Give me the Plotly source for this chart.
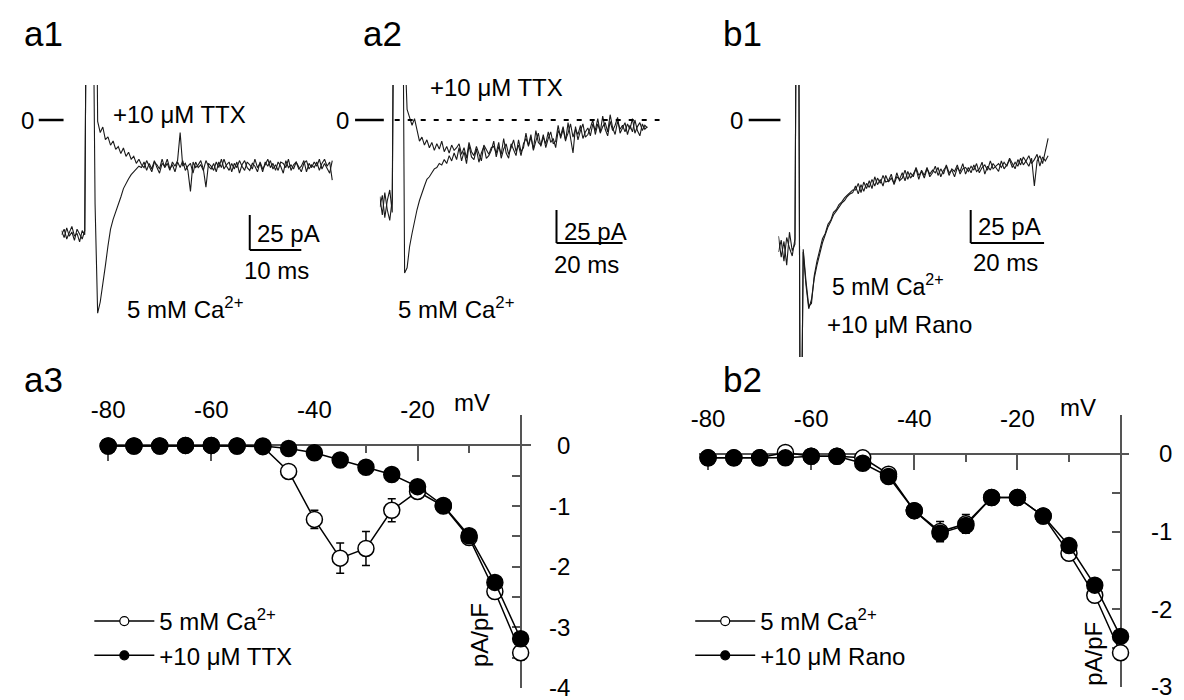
import numpy as np
import plotly.graph_objects as go

W, H = 1184, 700
FONT = "Liberation Sans, Arial, sans-serif"
INK = "#1a1a1a"
AXIS = "#555555"
TXT = 24

# ---------------- whole-cell current traces (pA) ----------------
A1_DT = 0.5   # ms per sample
a1_ca = [-79, -84, -77, -83, -80, -86, -78, -82, -85, -79,
         220, 220, 150, -60,
         -138, -130, -118, -104, -90, -78, -71, -66, -60, -55, -49, -45, -42, -39, -37, -35, -33, -34,
         -30, -36, -31, -35, -29, -34, -38, -31, -33, -28, -35, -32, -37, -30, -34, -29, -36, -33, -31, -38,
         -30, -34, -32, -36, -29, -33, -35, -31, -37, -30, -34, -28, -33, -36, -31, -35, -30, -38, -32, -29,
         -34, -36, -31, -33, -37, -30, -35, -32, -28, -34, -31, -36, -30, -33, -38, -29, -34, -32, -35, -30,
         -33, -37, -31, -29, -35, -32, -34, -30, -36, -31, -28, -33, -30, -43]
a1_ttx = [-82, -78, -85, -80, -76, -83, -81, -87, -79, -82,
          220, 220, 220, 220,
          -1, -9, -5, -14, -12, -18, -15, -21, -19, -24, -20, -26, -23, -28, -26, -31, -28, -32,
          -34, -29, -33, -37, -30, -32, -35, -28, -34, -31, -36, -30, -33, -29, -9, -33, -31, -36, -51, -30,
          -34, -32, -29, -35, -48, -31, -33, -36, -30, -34, -28, -35, -32, -30, -37, -31, -34, -29, -33, -36,
          -30, -32, -35, -28, -34, -31, -37, -30, -33, -29, -35, -32, -36, -30, -31, -34, -28, -36, -32, -30,
          -35, -33, -29, -37, -31, -34, -30, -33, -28, -35, -31, -34, -38, -29]

A2_DT = 0.75
a2_ca = [-58, -72, -55, -68, -76, -60,
         220, 220, 220, 200,
         -116, -112, -96, -86, -76, -68, -61, -55, -50, -45, -43, -40, -37, -36, -33, -34, -30, -33, -27, -31, -25, -30,
         -21, -31, -24, -33, -19, -28, -30, -22, -32, -25, -20, -29, -27, -23,
         -16, -28, -20, -26, -14, -25, -29, -18, -23, -27, -15, -24, -21,
         -10, -20, -13, -22, -8, -17, -19, -11, -21, -14, -9, -18, -16,
         -4, -14, -7, -16, -2, -12, -25, -5, -15, -8, -3, -13, -11, -6,
         0, -11, -3, -9, 3, -7, -12, -1, -8, -4, 2, -10, -6,
         -2, -11, -4, -9, 0, -8, -12, -3, -7, -5]
a2_ttx = [-66, -57, -74, -61, -53, -70,
          220, 220, 220, 220,
          60, 8, 2, -4, 1, -9, -16, -13, -19, -15, -21, -17, -23, -18, -22, -16, -24, -20, -25, -19, -23, -21,
          -18, -26, -21, -29, -17, -24, -27, -20, -25, -31, -19, -23, -26, -21,
          -20, -25, -17, -29, -22, -18, -26, -21, -15, -24, -19, -27, -18,
          -14, -19, -11, -23, -16, -10, -20, -13, -18, -9, -17, -14, -21,
          -8, -12, -5, -15, -10, -3, -13, -7, -11, -4, -14, -9, -6, -12,
          -3, -8, 1, -10, -5, -2, -9, 4, -6, -11, -1, -7, -4,
          -9, -3, -7, 1, -10, -5, -2, -8, -4, -6]

B1_DT = 0.75
b1_ca = [-88, -104, -92, -110, -85, -99, -94,
         320, -320,
         -100, -125, -143, -136, -120, -110, -101, -93, -87, -81, -77, -72, -69, -66, -63, -61, -58, -56, -55,
         -50, -56, -49, -54, -48,
         -51, -45, -50, -44, -48, -42, -47, -46, -41, -49, -43, -45,
         -40, -46, -39, -44, -41, -37, -45, -38, -42, -36, -43, -40,
         -35, -42, -37, -41, -34, -40, -38, -43, -36, -39, -33, -41,
         -36, -40, -34, -39, -37, -32, -41, -35, -38, -33, -36, -39,
         -31, -37, -34, -30, -36, -32, -35, -29, -34, -31, -27, -33, -30, -26, -35, -28, -31, -27]
b1_rano = [-100, -91, -107, -89, -97, -103, -90,
           320, -320,
           -98, -122, -141, -139, -118, -107, -99, -90, -86, -79, -76, -70, -68, -64, -62, -59, -57, -55, -53,
           -53, -48, -55, -47, -52,
           -46, -52, -43, -49, -45, -50, -42, -47, -44, -48, -40, -46,
           -44, -38, -45, -40, -43, -36, -42, -39, -44, -37, -41, -38,
           -40, -36, -43, -38, -35, -42, -37, -39, -34, -41, -37, -36,
           -39, -35, -38, -33, -40, -36, -34, -38, -31, -37, -35, -33,
           -36, -32, -35, -29, -33, -37, -30, -34, -28, -32, -35, -29, -50, -31, -27, -33, -22, -14]

SCALE_PA = 25
a1_scale_ms = 10
a2_scale_ms = 20
b1_scale_ms = 20

# ---------------- current-voltage relations (pA/pF) ----------------
iv_mv = [-80, -75, -70, -65, -60, -55, -50, -45, -40, -35, -30, -25, -20, -15, -10, -5, 0]
a3_ca = [-0.01, -0.01, -0.01, 0.0, 0.0, -0.01, -0.02, -0.43, -1.22, -1.86, -1.70, -1.07, -0.76, -1.00, -1.52, -2.41, -3.42]
a3_ca_err = [0.03, 0.03, 0.03, 0.03, 0.03, 0.03, 0.03, 0.06, 0.15, 0.25, 0.28, 0.19, 0.05, 0.05, 0.06, 0.08, 0.12]
a3_ttx = [-0.01, -0.01, -0.01, 0.0, 0.0, -0.01, -0.01, -0.05, -0.12, -0.24, -0.36, -0.48, -0.68, -0.99, -1.49, -2.26, -3.19]
a3_ttx_err = [0.03, 0.03, 0.03, 0.03, 0.03, 0.03, 0.03, 0.03, 0.04, 0.04, 0.05, 0.05, 0.06, 0.05, 0.06, 0.07, 0.08]
b2_ca = [-0.05, -0.05, -0.05, 0.02, -0.03, -0.03, -0.05, -0.26, -0.73, -1.00, -0.90, -0.56, -0.56, -0.80, -1.28, -1.82, -2.56]
b2_ca_err = [0.03, 0.03, 0.03, 0.03, 0.03, 0.03, 0.03, 0.04, 0.05, 0.13, 0.12, 0.05, 0.05, 0.05, 0.06, 0.07, 0.08]
b2_rano = [-0.05, -0.05, -0.05, -0.05, -0.03, -0.03, -0.12, -0.29, -0.73, -1.02, -0.92, -0.56, -0.56, -0.80, -1.18, -1.69, -2.35]
b2_rano_err = [0.03, 0.03, 0.03, 0.03, 0.03, 0.03, 0.03, 0.04, 0.05, 0.08, 0.08, 0.05, 0.05, 0.05, 0.05, 0.06, 0.07]

iv_xtick_vals = [-80, -60, -40, -20]
a3_ytick_vals = [0, -1, -2, -3, -4]
b2_ytick_vals = [0, -1, -2, -3]


def fx(px):
    return px / W


def fy(py):
    return 1 - py / H


def ax_name(kind, n):
    return kind + ("" if n == 1 else str(n))


fig = go.Figure()
layout = dict(width=W, height=H, margin=dict(l=0, r=0, t=0, b=0),
              paper_bgcolor="white", plot_bgcolor="rgba(0,0,0,0)",
              font=dict(family=FONT, color="black"), showlegend=True)
annots = []


def text(s, px, py, size=TXT, anchor="left", angle=0, yref="paper"):
    annots.append(dict(text=s, x=fx(px), y=fy(py) if yref == "paper" else py,
                       xref="paper", yref=yref,
                       xanchor=anchor, yanchor="middle", showarrow=False, textangle=angle,
                       font=dict(family=FONT, size=size, color="black")))


# ---- trace panels: pixel box, origin and scale (px per ms, px per pA) ----
trace_panels = [
    dict(n=1, left=52, right=330, top=85, bottom=320, x0=52, y0=120, sx=5.2, sy=1.4,
         data=[(a1_ca, A1_DT), (a1_ttx, A1_DT)]),
    dict(n=2, left=373, right=660, top=85, bottom=320, x0=373, y0=120, sx=3.33, sy=1.32,
         data=[(a2_ca, A2_DT), (a2_ttx, A2_DT)]),
    dict(n=3, left=775, right=1050, top=85, bottom=357, x0=775, y0=120, sx=3.7, sy=1.32,
         data=[(b1_ca, B1_DT), (b1_rano, B1_DT)]),
]
for p in trace_panels:
    n = p["n"]
    layout[ax_name("xaxis", n)] = dict(
        domain=[fx(p["left"]), fx(p["right"])],
        range=[(p["left"] - p["x0"]) / p["sx"], (p["right"] - p["x0"]) / p["sx"]],
        visible=False, anchor=ax_name("y", n), fixedrange=True)
    layout[ax_name("yaxis", n)] = dict(
        domain=[fy(p["bottom"]), fy(p["top"])],
        range=[(p["y0"] - p["bottom"]) / p["sy"], (p["y0"] - p["top"]) / p["sy"]],
        visible=False, anchor=ax_name("x", n), fixedrange=True)
    for vals, dt in p["data"]:
        fig.add_trace(go.Scatter(
            x=np.arange(len(vals)) * dt, y=vals, mode="lines",
            line=dict(color=INK, width=1.1), showlegend=False, hoverinfo="skip",
            xaxis=ax_name("x", n), yaxis=ax_name("y", n)))

shapes = []
# zero-current markers next to each trace
for n, (xa, xb) in zip([1, 2, 3], [(29, 54), (348, 377), (745, 777)]):
    shapes.append(dict(type="line", xref="paper", yref=ax_name("y", n),
                       x0=fx(xa), x1=fx(xb), y0=0, y1=0,
                       line=dict(color="black", width=2.5)))
# dashed zero level in a2
shapes.append(dict(type="line", xref="x2", yref="y2", x0=4.5, x1=84.7, y0=0, y1=0,
                   line=dict(color="black", width=2, dash="5px,8px")))
# scale bars (corner in ms / pA)
for n, (tc, ic, ms) in zip([1, 2, 3], [(36.5, -92.9, a1_scale_ms), (53.5, -93.2, a2_scale_ms),
                                       (52.4, -93.2, b1_scale_ms)]):
    xr, yr = ax_name("x", n), ax_name("y", n)
    shapes.append(dict(type="line", xref=xr, yref=yr, x0=tc, x1=tc, y0=ic, y1=ic + SCALE_PA,
                       line=dict(color="black", width=2)))
    shapes.append(dict(type="line", xref=xr, yref=yr, x0=tc, x1=tc + ms, y0=ic, y1=ic,
                       line=dict(color="black", width=2)))

# ---- I-V panels ----
iv_panels = [
    dict(n=4, left=92, right=525, top=415, bottom=688, mv0=515, pxmv=5.2,
         ytop=0.5, ybot=-4, label_right=567, yticks=a3_ytick_vals,
         series=[(a3_ca, a3_ca_err, False), (a3_ttx, a3_ttx_err, True)]),
    dict(n=5, left=695, right=1129, top=415, bottom=687, mv0=1120, pxmv=5.2,
         ytop=0.5, ybot=-3, label_right=1174, yticks=b2_ytick_vals,
         series=[(b2_ca, b2_ca_err, False), (b2_rano, b2_rano_err, True)]),
]
for p in iv_panels:
    n = p["n"]
    y0px = p["top"] + p["ytop"] / (p["ytop"] - p["ybot"]) * (p["bottom"] - p["top"])
    yr = [p["ybot"] - 0.002, p["ytop"] + 0.002]
    layout[ax_name("xaxis", n)] = dict(
        domain=[fx(p["left"]), fx(p["right"])],
        range=[(p["left"] - p["mv0"]) / p["pxmv"], (p["right"] - p["mv0"]) / p["pxmv"]],
        anchor="free", position=fy(y0px), side="top",
        showline=True, linecolor=AXIS, linewidth=1.5,
        ticks="inside", ticklen=15, tickwidth=1.5, tickcolor=AXIS,
        tickmode="array", tickvals=iv_xtick_vals, ticktext=[str(v) for v in iv_xtick_vals],
        tickfont=dict(size=TXT, family=FONT, color="black"), ticklabelstandoff=17,
        minor=dict(dtick=10, tick0=0, ticks="inside", ticklen=7, tickwidth=1.5, tickcolor=AXIS),
        showgrid=False, zeroline=False, layer="below traces", fixedrange=True)
    layout[ax_name("yaxis", n)] = dict(
        domain=[fy(p["bottom"]), fy(p["top"])], range=yr,
        anchor="free", position=fx(p["mv0"]), side="right",
        showline=True, linecolor=AXIS, linewidth=1.5,
        ticks="inside", ticklen=8, tickwidth=1.5, tickcolor=AXIS,
        tick0=0, dtick=0.5, showticklabels=False,
        showgrid=False, zeroline=False, layer="below traces", fixedrange=True)
    # right-aligned tick labels of the current axis
    for v in p["yticks"]:
        text(str(v), p["label_right"], v, anchor="right", yref=ax_name("y", n))
    for vals, err, filled in p["series"]:
        fig.add_trace(go.Scatter(
            x=iv_mv, y=vals, mode="lines+markers",
            error_y=dict(type="data", array=err, color="black", thickness=1.5, width=4),
            marker=dict(symbol="circle", size=16, color="black" if filled else "white",
                        line=dict(color="black", width=1.5)),
            line=dict(color="black", width=1.5), cliponaxis=False,
            showlegend=False, hoverinfo="skip",
            xaxis=ax_name("x", n), yaxis=ax_name("y", n)))

# legend entries
legend_names = [("5 mM Ca<sup>2+</sup>", False, "legend", 4), ("+10 μM TTX", True, "legend", 4),
                ("5 mM Ca<sup>2+</sup>", False, "legend2", 5), ("+10 μM Rano", True, "legend2", 5)]
for i, (name, filled, leg, n) in enumerate(legend_names):
    fig.add_trace(go.Scatter(
        x=[None], y=[None], mode="lines+markers", name=name, legend=leg,
        legendgroup=f"g{i}",
        marker=dict(symbol="circle", size=9, color="black" if filled else "white",
                    line=dict(color="black", width=1.2)),
        line=dict(color="black", width=1.5),
        xaxis=ax_name("x", n), yaxis=ax_name("y", n)))

leg_common = dict(xanchor="left", yanchor="top", bgcolor="rgba(0,0,0,0)",
                  font=dict(family=FONT, size=TXT, color="black"), itemwidth=60,
                  tracegroupgap=0, traceorder="normal", itemclick=False, itemdoubleclick=False)
layout["legend"] = dict(x=fx(80), y=fy(599), **leg_common)
layout["legend2"] = dict(x=fx(686), y=fy(599), **leg_common)

# ---- text ----
for lab, px, py in [("a1", 12, 33), ("a2", 354, 33), ("b1", 717, 33), ("a3", 12, 380), ("b2", 717, 380)]:
    text(lab, px, py, size=35)
for px in (9, 327, 724):
    text("0", px, 120)

text("+10 μM TTX", 102, 115)
text(f"{SCALE_PA} pA", 247, 233)
text(f"{a1_scale_ms} ms", 234, 270)
text("5 mM Ca<sup>2+</sup>", 116, 308)

text("+10 μM TTX", 422, 88)
text(f"{SCALE_PA} pA", 557, 232)
text(f"{a2_scale_ms} ms", 547, 264)
text("5 mM Ca<sup>2+</sup>", 389, 308)

text(f"{SCALE_PA} pA", 974, 226)
text(f"{b1_scale_ms} ms", 969, 262)
text("5 mM Ca<sup>2+</sup>", 827, 285, size=23)
text("+10 μM Rano", 822, 324)

text("mV", 446, 402)
text("mV", 1057, 407)
text("pA/pF", 473, 635, anchor="center", angle=-90)
text("pA/pF", 1092, 654, anchor="center", angle=-90)

layout["shapes"] = shapes
layout["annotations"] = annots
fig.update_layout(**layout)
fig.write_html("out.html")
